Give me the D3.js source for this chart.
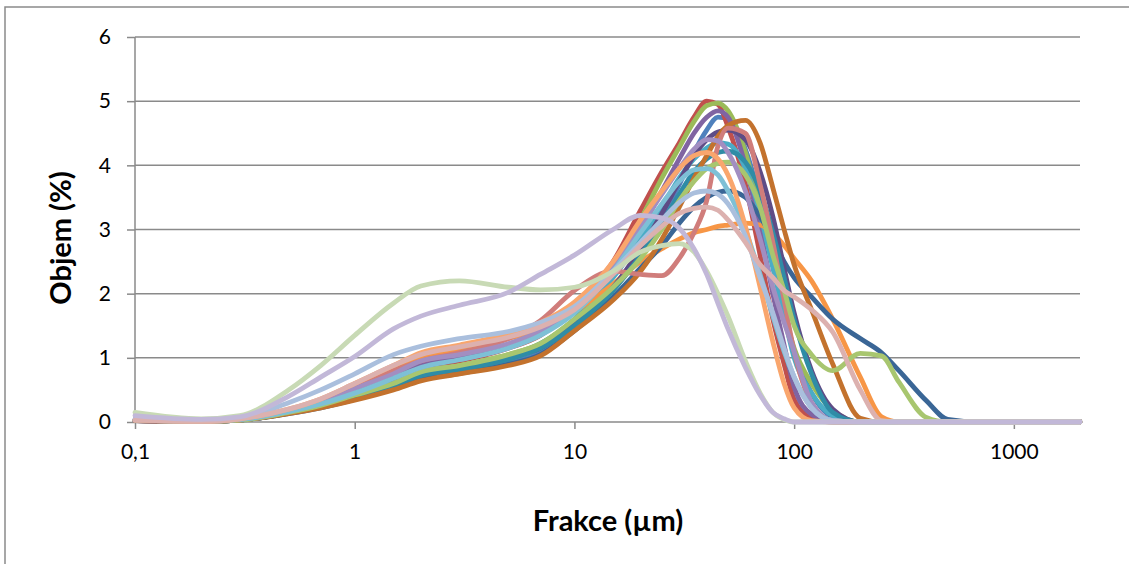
<!DOCTYPE html>
<html lang="cs">
<head>
<meta charset="utf-8">
<title>Frakce - objem</title>
<script src="https://cdn.jsdelivr.net/npm/d3@7"></script>
<style>
body { margin: 0; background: #fff; }
.grid line { stroke: #8a8a8a; stroke-width: 1.5px; }
.axis path, .axis line { stroke: #8a8a8a; stroke-width: 1.5px; fill: none; }
.axis text { font-family: Lato, "Open Sans", sans-serif; font-size: 21px; fill: #000; }
.title { font-family: Lato, "Open Sans", sans-serif; font-size: 29px; font-weight: bold; fill: #000; }
.series { fill: none; stroke-width: 4.8px; stroke-linejoin: round; stroke-linecap: round; }
</style>
</head>
<body>
<script>
// particle size grid (um)
var sizes = [0.1,0.2,0.3,0.5,0.7,1,1.5,2,3,5,7,10,15,20,25,30,35,40,45,50,60,70,80,90,100,120,150,200,250,300,400,500,700,1000,2000];

// volume % for each sample
var sBlue = [0.03,0.01,0.03,0.14,0.24,0.37,0.55,0.68,0.78,0.92,1.08,1.48,2.1,2.65,3.2,3.7,4.2,4.55,4.75,4.72,4.25,3.45,2.55,1.75,1.1,0.45,0.08,0,0,0,0,0,0,0,0];
var sRed = [0.02,0.01,0.03,0.16,0.28,0.45,0.64,0.85,0.95,1.15,1.35,1.78,2.5,3.3,3.9,4.35,4.75,5.0,4.95,4.6,3.7,2.6,1.6,0.9,0.35,0.06,0,0,0,0,0,0,0,0,0];
var sGreen = [0.03,0.01,0.03,0.15,0.26,0.42,0.6,0.78,0.88,1.05,1.22,1.6,2.35,3.15,3.8,4.28,4.68,4.93,4.97,4.85,4.2,3.3,2.45,1.7,1.15,0.6,0.18,0,0,0,0,0,0,0,0];
var sPurple = [0.04,0.01,0.04,0.17,0.3,0.5,0.72,0.9,1.02,1.2,1.4,1.75,2.35,3.0,3.6,4.1,4.5,4.75,4.85,4.75,4.0,3.0,2.0,1.2,0.55,0.12,0,0,0,0,0,0,0,0,0];
var sTeal = [0.03,0.01,0.03,0.15,0.26,0.4,0.6,0.75,0.85,1.02,1.22,1.6,2.25,2.85,3.35,3.8,4.1,4.27,4.35,4.33,3.95,3.25,2.4,1.65,1.0,0.45,0.1,0,0,0,0,0,0,0,0];
var sOrange = [0.03,0.01,0.04,0.18,0.32,0.57,0.85,1.02,1.12,1.3,1.45,1.72,2.15,2.5,2.7,2.85,2.95,3.0,3.05,3.07,3.1,3.07,2.95,2.75,2.55,2.2,1.6,0.7,0.08,0,0,0,0,0,0];
var sDarkBlue = [0.02,0.01,0.03,0.13,0.22,0.35,0.53,0.66,0.76,0.9,1.05,1.42,1.95,2.4,2.75,3.1,3.35,3.5,3.58,3.6,3.5,3.2,2.85,2.5,2.25,1.95,1.6,1.3,1.08,0.8,0.33,0.04,0,0,0];
var sDarkPurple = [0.02,0.01,0.03,0.14,0.24,0.38,0.57,0.72,0.82,1.0,1.15,1.52,2.1,2.7,3.25,3.75,4.15,4.4,4.52,4.55,4.4,3.9,3.2,2.4,1.7,0.8,0.2,0,0,0,0,0,0,0,0];
var sDarkTeal = [0.02,0.01,0.03,0.14,0.24,0.38,0.57,0.72,0.82,0.98,1.15,1.5,2.05,2.6,3.1,3.55,3.9,4.1,4.2,4.22,4.05,3.6,2.95,2.25,1.6,0.75,0.15,0,0,0,0,0,0,0,0];
var sDarkOrange = [0.02,0.01,0.03,0.13,0.22,0.34,0.5,0.64,0.75,0.88,1.03,1.42,1.9,2.35,2.85,3.35,3.8,4.15,4.45,4.62,4.7,4.35,3.65,3.0,2.45,1.75,0.9,0.06,0,0,0,0,0,0,0];
var sSalmon = [0.02,0.01,0.03,0.16,0.3,0.55,0.8,0.95,1.08,1.3,1.58,2.05,2.35,2.3,2.28,2.55,2.95,3.45,4.3,4.58,4.5,3.7,2.8,1.9,1.1,0.3,0.02,0,0,0,0,0,0,0,0];
var sLightGreen = [0.03,0.01,0.03,0.15,0.26,0.42,0.6,0.78,0.88,1.05,1.22,1.6,2.1,2.55,3.0,3.45,3.75,3.95,4.03,4.05,3.85,3.35,2.6,2.05,1.5,1.05,0.8,1.07,1.03,0.62,0.07,0,0,0,0];
var sLightPurple = [0.03,0.01,0.04,0.17,0.3,0.52,0.75,0.95,1.05,1.22,1.42,1.75,2.45,3.05,3.55,3.95,4.25,4.4,4.38,4.2,3.6,2.85,2.1,1.55,1.1,0.3,0.02,0,0,0,0,0,0,0,0];
var sLightTeal = [0.03,0.01,0.04,0.16,0.28,0.45,0.68,0.85,0.97,1.15,1.35,1.7,2.35,2.95,3.4,3.75,3.93,3.95,3.85,3.6,3.0,2.3,1.65,1.1,0.7,0.22,0.02,0,0,0,0,0,0,0,0];
var sLightOrange = [0.03,0.01,0.05,0.2,0.36,0.6,0.88,1.08,1.2,1.37,1.55,1.87,2.5,3.15,3.6,3.95,4.15,4.2,4.1,3.85,3.05,2.1,1.25,0.6,0.22,0.02,0,0,0,0,0,0,0,0,0];
var sPaleBlue = [0.04,0.02,0.06,0.3,0.5,0.75,1.05,1.18,1.3,1.41,1.55,1.8,2.35,2.8,3.15,3.42,3.57,3.6,3.55,3.4,2.9,2.25,1.7,1.15,0.7,0.22,0.02,0,0,0,0,0,0,0,0];
var sPink = [0.03,0.01,0.05,0.2,0.36,0.6,0.88,1.05,1.17,1.32,1.48,1.75,2.3,2.75,3.05,3.25,3.33,3.35,3.3,3.15,2.8,2.45,2.25,2.05,1.95,1.75,1.4,0.5,0.02,0,0,0,0,0,0];
var sPaleGreen = [0.15,0.05,0.1,0.5,0.88,1.35,1.85,2.12,2.2,2.1,2.06,2.1,2.35,2.65,2.75,2.78,2.65,2.35,2.0,1.65,0.95,0.45,0.15,0.04,0,0,0,0,0,0,0,0,0,0,0];
var sLavender = [0.1,0.04,0.08,0.4,0.7,1.02,1.45,1.65,1.82,2.02,2.3,2.6,3.0,3.22,3.18,3.02,2.7,2.3,1.85,1.45,0.85,0.42,0.15,0.05,0,0,0,0,0,0,0,0,0,0,0];

var seriesValues = [sBlue, sRed, sGreen, sPurple, sTeal, sOrange, sDarkBlue, sDarkPurple, sDarkTeal, sDarkOrange,
                    sSalmon, sLightGreen, sLightPurple, sLightTeal, sLightOrange, sPaleBlue, sPink, sPaleGreen, sLavender];
var seriesColors = ["#4F81BD","#C0504D","#9BBB59","#8064A2","#4BACC6","#F79646","#3A6696","#5E4C86","#2F8CA6","#C3722D",
                    "#D07D7B","#A8C66F","#A28EC1","#7EC0D6","#F9A66D","#AABFDD","#DCB1AF","#C8DAB5","#C2B8D8"];

var yTicks = [0,1,2,3,4,5,6];
var xTicks = [0.1,1,10,100,1000];
var xTickLabels = ["0,1","1","10","100","1000"];

var w = 1129, h = 564;
// plot area (note: "top" is a reserved window property, so use plot_*)
var plot_l = 135, plot_r = 1080, plot_t = 37, plot_b = 422;

var svg = d3.select("body").append("svg")
    .attr("width", w)
    .attr("height", h);

// chart frame
svg.append("rect")
    .attr("x", 5).attr("y", 7)
    .attr("width", 1140).attr("height", 600)
    .attr("fill", "#fff")
    .attr("stroke", "#8a8a8a")
    .attr("stroke-width", 1.5);

var x = d3.scaleLog().domain([0.1, 2000]).range([plot_l, plot_r]);
var y = d3.scaleLinear().domain([0, 6]).range([plot_b, plot_t]);

// horizontal gridlines
svg.append("g").attr("class", "grid")
    .selectAll("line").data(yTicks.slice(1)).enter()
    .append("line")
    .attr("x1", plot_l).attr("x2", plot_r)
    .attr("y1", function(d){ return y(d); })
    .attr("y2", function(d){ return y(d); });

// y axis
var yAxis = svg.append("g").attr("class", "axis")
    .attr("transform", "translate(" + plot_l + ",0)")
    .call(d3.axisLeft(y).tickValues(yTicks).tickSize(8).tickPadding(16).tickFormat(d3.format("d")));

// x axis
var xAxis = svg.append("g").attr("class", "axis")
    .attr("transform", "translate(0," + plot_b + ")")
    .call(d3.axisBottom(x).tickValues(xTicks).tickSize(7).tickPadding(15)
        .tickFormat(function(d, i){ return xTickLabels[i]; }));
xAxis.select(".domain").attr("d", "M" + plot_l + ",0H" + plot_r);
yAxis.select(".domain").attr("d", "M0," + plot_b + "V" + plot_t);

// series
var line = d3.line()
    .x(function(d){ return x(d[0]); })
    .y(function(d){ return y(d[1]); })
    .curve(d3.curveMonotoneX);

svg.append("g").selectAll("path")
    .data(seriesValues).enter()
    .append("path")
    .attr("class", "series")
    .attr("stroke", function(d, i){ return seriesColors[i]; })
    .attr("d", function(vals){
        return line(sizes.map(function(s, j){ return [s, vals[j]]; }));
    });

// axis titles
svg.append("text").attr("class", "title")
    .attr("x", 608).attr("y", 531)
    .attr("text-anchor", "middle")
    .text("Frakce (µm)");

svg.append("text").attr("class", "title")
    .attr("transform", "translate(71,238) rotate(-90)")
    .attr("text-anchor", "middle")
    .text("Objem (%)");
</script>
</body>
</html>
